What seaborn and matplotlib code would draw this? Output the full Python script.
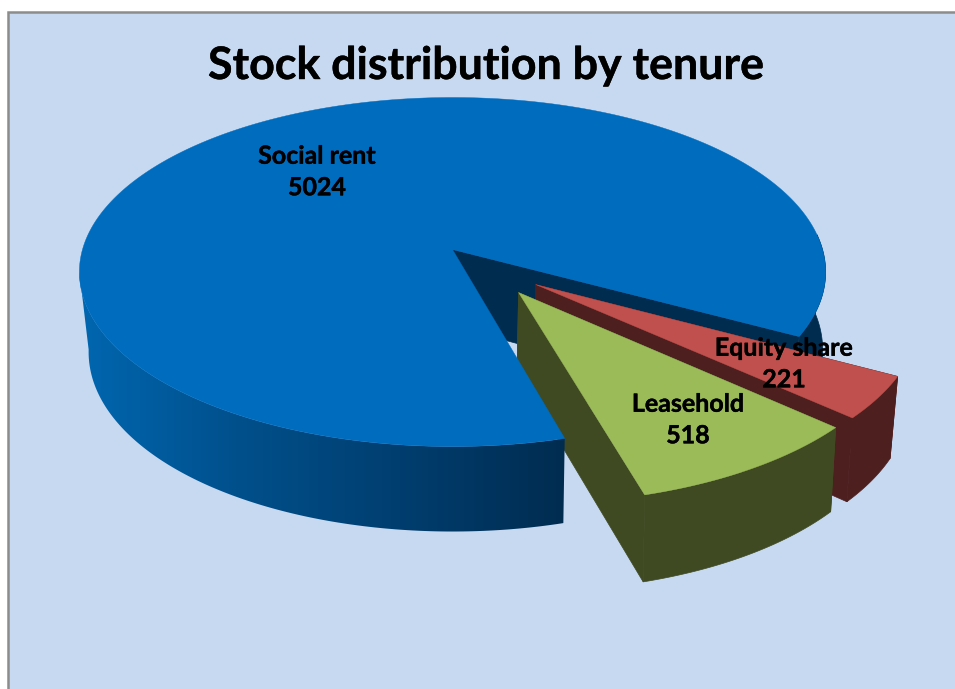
import numpy as np
import seaborn as sns
import matplotlib.pyplot as plt
import matplotlib.patheffects as pe
from matplotlib.colors import ListedColormap
from matplotlib.patches import Polygon, Rectangle

tenure_names = ["Social rent", "Leasehold", "Equity share"]
tenure_values = [5024, 518, 221]
title_text = "Stock distribution by tenure"

sns.set_style("white")
plt.rcParams['font.family'] = ['Lato', 'DejaVu Sans']

# pie geometry in pixels
cx, cy = 452.5, 249.5
rx, ry = 370, 171.6
persp = 0.129
first_angle = -74.6


def project(u, v):
    s = 1 / (1 + persp * v)
    return cx + rx * u * s, cy - ry * v * s


def drop(x, y, k=None):
    # same point on the underside of the disc
    if k is None:
        k = 0.975 + 0.017 * (y - 270) / 225
    return cx + (x - cx) * k, y + 82 + 0.042 * (y - 375)


def arc(a0, a1, off=(0, 0), n=120):
    t = np.radians(np.linspace(a0, a1, n))
    return project(off[0] + np.cos(t), off[1] + np.sin(t))


def wall(ax, xs, ys, color, k=None):
    bx, by = drop(np.asarray(xs), np.asarray(ys), k)
    ax.fill(np.r_[xs, bx[::-1]], np.r_[ys, by[::-1]], color=color, lw=0.5)


def slice_3d(ax, a0, a1, off, top_color, side_color):
    ax_, ay_ = project(off[0], off[1])
    xs, ys = arc(a0, a1, off)
    for ex, ey in [(xs[0], ys[0]), (xs[-1], ys[-1])]:
        wall(ax, [ax_, ex], [ay_, ey], side_color)
    wall(ax, xs, ys, side_color)
    ax.fill(np.r_[ax_, xs], np.r_[ay_, ys], color=top_color, lw=0.3)


fig = plt.figure(figsize=(9.55, 6.89), dpi=100)
ax = fig.add_axes([0, 0, 1, 1])
ax.axis('off')
ax.add_patch(Rectangle((8, 12), 980, 720, fc='#C6D9F1', ec='#8C8C8C', lw=1.8))

sweeps = 360 * np.array(tenure_values) / sum(tenure_values)
equity_start = first_angle - sweeps[0] + 360

navy = '#002C4F'
# inside of the cut and back part of the rim, behind the exploded slices
ex, ey = project(np.cos(np.radians(equity_start)), np.sin(np.radians(equity_start)))
wall(ax, [cx, ex], [cy, ey], navy)
bx_, by_ = arc(equity_start, 5)
wall(ax, bx_, by_, navy, k=0.992)

equity_off = (0.219, -0.199)
lease_off = (0.173, -0.243)
slice_3d(ax, equity_start, equity_start - sweeps[2], equity_off, '#C0504D', '#4E1F1F')
slice_3d(ax, first_angle, first_angle + sweeps[1], lease_off, '#9BBB59', '#404A22')

# front rim of the big slice with its left to right shading
rim_x, rim_y = arc(first_angle, -183, n=240)
left_end = np.argmin(rim_x) + 1
rim_x, rim_y = rim_x[:left_end], rim_y[:left_end]
low_x, low_y = drop(rim_x, rim_y)
rim_poly = Polygon(np.c_[np.r_[rim_x, low_x[::-1]], np.r_[rim_y, low_y[::-1]]],
                   closed=True, fc='none', ec='none', transform=ax.transData)
ax.add_patch(rim_poly)
rim_pal = sns.blend_palette(['#0068B2', '#00508C', '#003E6F', '#002C50'], 256)
shade = ax.imshow(np.linspace(0, 1, 256)[None, :], cmap=ListedColormap(rim_pal), aspect='auto',
                  extent=(70, 565, 560, 240), interpolation='bilinear', zorder=1)
shade.set_clip_path(rim_poly)

# top of the big slice
tx, ty = arc(first_angle, equity_start - 360, n=400)
ax.fill(np.r_[cx, tx], np.r_[cy, ty], color='#006CBE', lw=0.3, zorder=2)

ax.set_xlim(0, 955)
ax.set_ylim(689, 0)

thick = [pe.withStroke(linewidth=0.3, foreground='black')]
ax.text(486, 66, title_text, ha='center', va='center', fontsize=32.2, fontweight='bold',
        color='black', zorder=3, path_effects=thick)
label_pos = [(317, 172), (688, 420), (784, 364)]
for name, val, (lx, ly) in zip(tenure_names, tenure_values, label_pos):
    ax.text(lx, ly, f"{name}\n{val}", ha='center', va='center', fontsize=18,
            fontweight='bold', color='black', linespacing=1.45, multialignment='center',
            zorder=3, path_effects=thick)

plt.savefig("out.png", dpi=100)
